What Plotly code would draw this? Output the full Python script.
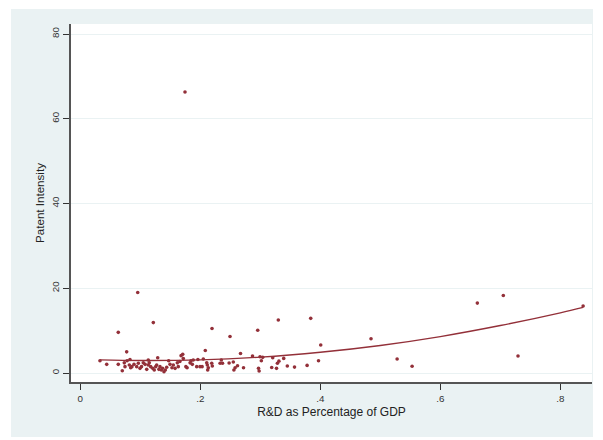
import plotly.graph_objects as go

# R&D as percentage of GDP (x) and patent intensity (y)
rd_gdp = [0.1745, 0.0957, 0.1217, 0.2195, 0.0633, 0.2495, 0.2957, 0.330, 0.384, 0.4007,
          0.4845, 0.528, 0.553, 0.6617, 0.705, 0.7295, 0.838, 0.0773, 0.2083, 0.1707,
          0.168, 0.267, 0.129, 0.287, 0.2995, 0.304, 0.3207, 0.3017, 0.297, 0.298,
          0.319, 0.327, 0.3285, 0.331, 0.339, 0.345, 0.357, 0.378, 0.397,
          0.166, 0.1717, 0.178, 0.183, 0.1845, 0.1867, 0.1883, 0.194, 0.196, 0.1995,
          0.203, 0.205, 0.2107, 0.2117, 0.2123, 0.2133, 0.219, 0.22, 0.233, 0.235,
          0.237, 0.248, 0.256, 0.258, 0.262, 0.255, 0.272,
          0.0328, 0.044, 0.0633, 0.07, 0.0733, 0.0745, 0.078, 0.0817, 0.084, 0.086,
          0.0895, 0.094, 0.0967, 0.0995, 0.102, 0.105, 0.108, 0.1107, 0.1133, 0.115,
          0.1173, 0.1207, 0.1233, 0.1257, 0.1273, 0.131, 0.1328, 0.135, 0.137, 0.1395,
          0.1417, 0.144, 0.1473, 0.1495, 0.1528, 0.155, 0.158, 0.1617, 0.1633, 0.176,
          0.1133, 0.0828]
patent_int = [66.3, 19.0, 11.9, 10.5, 9.6, 8.6, 10.1, 12.5, 12.9, 6.6,
              8.1, 3.3, 1.6, 16.5, 18.3, 4.0, 15.8, 5.0, 5.3, 4.4,
              4.1, 4.6, 3.6, 4.0, 3.85, 3.7, 3.6, 2.9, 1.1, 0.47,
              1.3, 1.1, 2.3, 2.8, 3.45, 1.65, 1.4, 1.8, 2.9,
              2.7, 3.4, 1.25, 2.4, 2.9, 2.05, 3.07, 1.5, 3.2, 1.5,
              1.5, 3.3, 2.4, 1.9, 0.7, 1.25, 2.3, 1.65, 2.3, 3.07,
              2.3, 2.35, 0.7, 1.25, 1.7, 2.6, 1.25,
              2.9, 2.05, 2.05, 0.55, 2.4, 1.5, 2.9, 1.9, 1.25, 1.5,
              2.05, 1.5, 2.3, 1.1, 1.5, 2.4, 2.05, 0.87, 1.9, 2.4,
              1.5, 1.1, 0.7, 1.5, 1.9, 0.87, 1.5, 0.7, 1.1, 0.3,
              0.7, 1.35, 2.9, 2.05, 1.25, 1.9, 1.1, 2.4, 1.5, 1.5,
              3.07, 3.2]

# Fitted curve
fit_x = [0.033, 0.1, 0.2, 0.3, 0.4, 0.5, 0.6, 0.7, 0.8, 0.838]
fit_y = [3.1, 2.95, 3.1, 3.75, 4.9, 6.5, 8.6, 11.2, 14.2, 15.5]

x_ticks = [0, 0.2, 0.4, 0.6, 0.8]
x_tick_labels = ["0", ".2", ".4", ".6", ".8"]
y_ticks = [0, 20, 40, 60, 80]
y_tick_labels = ["0", "20", "40", "60", "80"]

RED = "#933039"
BG = "#eaf2f3"
AXIS = "#555555"
FONT = "Liberation Sans, Arial, sans-serif"

fig = go.Figure()
fig.add_trace(go.Scatter(x=rd_gdp, y=patent_int, mode="markers",
                         marker=dict(color=RED, size=3.6, line=dict(width=0)),
                         showlegend=False, hoverinfo="skip"))
fig.add_trace(go.Scatter(x=fit_x, y=fit_y, mode="lines",
                         line=dict(color=RED, width=1.4, shape="spline"),
                         showlegend=False, hoverinfo="skip"))

white_strip = dict(type="rect", xref="paper", yref="paper", layer="above",
                   fillcolor="white", line=dict(width=0))
fig.update_layout(
    width=603, height=440,
    margin=dict(l=71, r=11, t=24, b=58, pad=0),
    paper_bgcolor=BG,
    plot_bgcolor="white",
    font=dict(family=FONT, color="#333333"),
    shapes=[
        dict(white_strip, x0=-0.2, x1=-0.1152, y0=-0.3, y1=1.3),   # left
        dict(white_strip, x0=1.0019, x1=1.1, y0=-0.3, y1=1.3),     # right
        dict(white_strip, x0=-0.2, x1=1.1, y0=1.0419, y1=1.3),     # top
        dict(white_strip, x0=-0.2, x1=1.1, y0=-0.3, y1=-0.1536),   # bottom
    ],
)
fig.update_xaxes(
    range=[-0.0155, 0.8528], tickvals=x_ticks, ticktext=x_tick_labels,
    showgrid=False, zeroline=False,
    showline=True, linecolor=AXIS, linewidth=2,
    ticks="outside", ticklen=6, tickwidth=1.3, tickcolor="#333333",
    tickfont=dict(size=9.8, color="#333333"),
    title=dict(text="R&D as Percentage of GDP", font=dict(size=12, color="#222222"), standoff=5),
)
fig.update_yaxes(
    range=[-2.12, 82.36], tickvals=y_ticks, ticktext=y_tick_labels, tickangle=-90,
    showgrid=True, gridcolor=BG, gridwidth=1, zeroline=False,
    showline=True, linecolor=AXIS, linewidth=2,
    ticks="outside", ticklen=6, tickwidth=1.3, tickcolor="#333333",
    tickfont=dict(size=9.8, color="#333333"),
    title=dict(text="Patent Intensity", font=dict(size=11.6, color="#222222"), standoff=3),
)

fig.write_html("out.html", config={"displayModeBar": False},
               post_script="document.body.style.margin='0';")
